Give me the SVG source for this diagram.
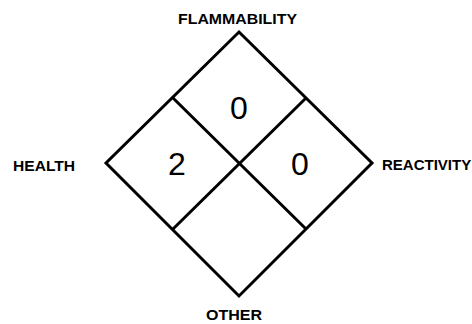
<svg xmlns="http://www.w3.org/2000/svg" width="472" height="324" viewBox="0 0 472 324">
<style>
.ln{fill:none;stroke:#000;stroke-width:3;stroke-linejoin:miter}
.lbl{font-family:"Liberation Sans",Arial,sans-serif;font-weight:bold;font-size:15px;fill:#000}
.num{font-family:"Liberation Sans",Arial,sans-serif;font-size:32px;fill:#000;text-anchor:middle}
</style>
<rect width="472" height="324" fill="#fff"/>
<g id="diamond">
<polygon class="ln" points="239,32 372,163 239,296 106,163"/>
</g>
<g id="connectors">
<line class="ln" x1="173" y1="98" x2="306" y2="229"/>
<line class="ln" x1="306" y1="98" x2="173" y2="229"/>
</g>
<g id="flammability">
<text class="lbl" x="178" y="24" textLength="119" lengthAdjust="spacingAndGlyphs">FLAMMABILITY</text>
<text class="num" x="239" y="119">0</text>
</g>
<g id="health">
<text class="lbl" x="13" y="171" textLength="62" lengthAdjust="spacingAndGlyphs">HEALTH</text>
<text class="num" x="177" y="175">2</text>
</g>
<g id="reactivity">
<text class="lbl" x="382" y="170">REACTIVITY</text>
<text class="num" x="300" y="175">0</text>
</g>
<g id="other">
<text class="lbl" x="206" y="320" textLength="56" lengthAdjust="spacingAndGlyphs">OTHER</text>
</g>
</svg>
